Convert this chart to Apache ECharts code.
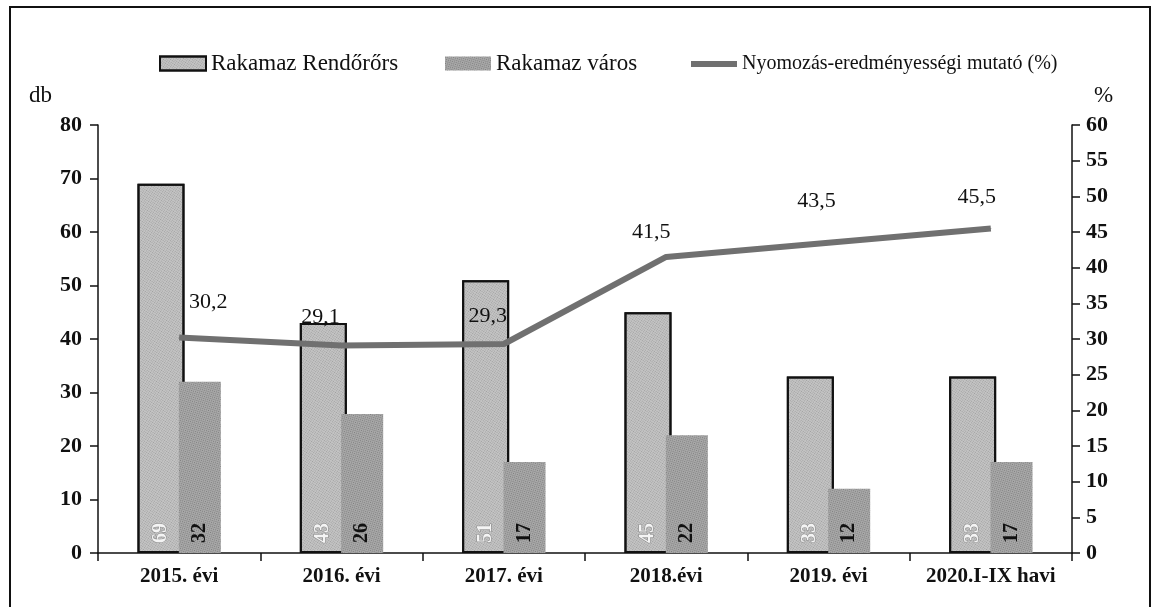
<!DOCTYPE html>
<html><head><meta charset="utf-8">
<script src="https://cdn.jsdelivr.net/npm/echarts@6/dist/echarts.min.js"></script>
<style>html,body{margin:0;padding:0;background:#fff}#c{width:1154px;height:607px}</style>
</head><body><div id="c"></div>
<script>
const categories = ['2015. évi','2016. évi','2017. évi','2018.évi','2019. évi','2020.I-IX havi'];
const rendorors = [69, 43, 51, 45, 33, 33];
const varos = [32, 26, 17, 22, 12, 17];
const mutato = [30.2, 29.1, 29.3, 41.5, 43.5, 45.5];
const leftTicks = {min:0, max:80, interval:10};
const rightTicks = {min:0, max:60, interval:5};
const seriesNames = ['Rakamaz Rendőrőrs', 'Rakamaz város', 'Nyomozás-eredményességi mutató (%)'];
// label placement (style only) for the line's value labels
const lineLabelOffsets = [[29,-35],[-21,-28],[-16,-28],[-15,-25],[-12,-41],[-14,-31]];

const F = '"Liberation Serif","DejaVu Serif",serif';
const chart = echarts.init(document.getElementById('c'));
const decalA = {symbol:'rect', symbolSize:1, dashArrayX:[1,1], dashArrayY:[1,1], color:'rgba(90,90,90,0.35)', rotation:0.6};
const decalB = {symbol:'rect', symbolSize:1, dashArrayX:[1,1], dashArrayY:[1,1], color:'rgba(60,60,60,0.4)', rotation:0.3};
const lineData = mutato.map((v,i) => ({value:v, label:{offset:lineLabelOffsets[i]}}));
const legendBase = {top:47, itemWidth:46, itemHeight:14, itemGap:6};
chart.setOption({
  animation:false,
  backgroundColor:'#fff',
  textStyle:{fontFamily:F},
  graphic:[{type:'rect', shape:{x:10,y:7,width:1140,height:640}, style:{fill:'none', stroke:'#111', lineWidth:2}, silent:true}],
  legend:[
    Object.assign({}, legendBase, {left:154, textStyle:{fontFamily:F, fontSize:23, color:'#111'},
      data:[{name:seriesNames[0], icon:'rect'}]}),
    Object.assign({}, legendBase, {left:440, textStyle:{fontFamily:F, fontSize:23, color:'#111'},
      data:[{name:seriesNames[1], icon:'rect'}]}),
    Object.assign({}, legendBase, {left:686, top:49, textStyle:{fontFamily:F, fontSize:20, color:'#111'},
      data:[{name:seriesNames[2], icon:'path://M0,0 H46 V6 H0 Z'}]})
  ],
  grid:{left:98, right:82, top:125, bottom:54},
  xAxis:{
    type:'category', data:categories, boundaryGap:true,
    axisLine:{lineStyle:{color:'#111', width:1.5}},
    axisTick:{show:true, length:8, inside:false, lineStyle:{color:'#111', width:1.5}},
    axisLabel:{interval:0, fontFamily:F, fontSize:21, fontWeight:'bold', color:'#111', margin:13}
  },
  yAxis:[
    {type:'value', min:leftTicks.min, max:leftTicks.max, interval:leftTicks.interval,
     name:'db', nameLocation:'end', nameGap:18,
     nameTextStyle:{fontFamily:F, fontSize:23, color:'#111', align:'right', padding:[0,46,0,0]},
     axisLine:{show:true, lineStyle:{color:'#111', width:1.5}},
     axisTick:{show:true, length:8, lineStyle:{color:'#111', width:1.5}},
     splitLine:{show:false},
     axisLabel:{fontFamily:F, fontSize:22, fontWeight:'bold', color:'#111', margin:16}},
    {type:'value', min:rightTicks.min, max:rightTicks.max, interval:rightTicks.interval,
     name:'%', nameLocation:'end', nameGap:18,
     nameTextStyle:{fontFamily:F, fontSize:23, color:'#111', align:'left', padding:[0,0,0,22]},
     axisLine:{show:true, lineStyle:{color:'#111', width:1.5}},
     axisTick:{show:true, length:8, lineStyle:{color:'#111', width:1.5}},
     splitLine:{show:false},
     axisLabel:{fontFamily:F, fontSize:22, fontWeight:'bold', color:'#111', margin:14}}
  ],
  series:[
    {name:seriesNames[0], type:'bar', data:rendorors, barWidth:47, barGap:'-12%',
     itemStyle:{color:'#c4c4c4', borderColor:'#111', borderWidth:2, decal:decalA},
     label:{show:true, position:'insideBottom', rotate:90, distance:10, align:'left', verticalAlign:'middle',
       fontFamily:F, fontSize:20, fontWeight:'bold', color:'#f4f4f4', textBorderColor:'#888', textBorderWidth:1}},
    {name:seriesNames[1], type:'bar', data:varos, barWidth:42,
     itemStyle:{color:'#a9a9a9', decal:decalB},
     label:{show:true, position:'insideBottom', rotate:90, distance:10, align:'left', verticalAlign:'middle',
       fontFamily:F, fontSize:20, fontWeight:'bold', color:'#111'}},
    {name:seriesNames[2], type:'line', yAxisIndex:1, data:lineData,
     symbol:'circle', symbolSize:1, showSymbol:true,
     lineStyle:{color:'#707070', width:6},
     itemStyle:{color:'#707070'},
     label:{show:true, position:'inside', fontFamily:F, fontSize:22, color:'#111',
       formatter:p => String(p.value).replace('.', ',')}}
  ]
});
</script></body></html>
